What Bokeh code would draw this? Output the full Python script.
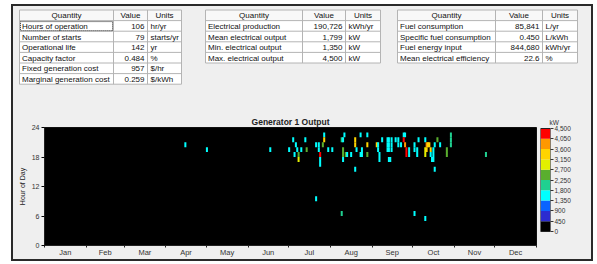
import numpy as np
from bokeh.plotting import figure
from bokeh.models import Range1d, FixedTicker, ColumnDataSource, NumeralTickFormatter
from bokeh.layouts import column, row
from bokeh.embed import file_html
from bokeh.resources import INLINE
from bokeh.transform import linear_cmap
from bokeh.core.properties import value

FONT = "Liberation Sans"

# ---------------- data ----------------
t1_quantity = ["Hours of operation", "Number of starts", "Operational life",
               "Capacity factor", "Fixed generation cost", "Marginal generation cost"]
t1_value = ["106", "79", "142", "0.484", "957", "0.259"]
t1_units = ["hr/yr", "starts/yr", "yr", "%", "$/hr", "$/kWh"]

t2_quantity = ["Electrical production", "Mean electrical output",
               "Min. electrical output", "Max. electrical output"]
t2_value = ["190,726", "1,799", "1,350", "4,500"]
t2_units = ["kWh/yr", "kW", "kW", "kW"]

t3_quantity = ["Fuel consumption", "Specific fuel consumption",
               "Fuel energy input", "Mean electrical efficiency"]
t3_value = ["85,841", "0.450", "844,680", "22.6"]
t3_units = ["L/yr", "L/kWh", "kWh/yr", "%"]

table_header = ["Quantity", "Value", "Units"]

months = ["Jan", "Feb", "Mar", "Apr", "May", "Jun",
          "Jul", "Aug", "Sep", "Oct", "Nov", "Dec"]
month_days = [31, 28, 31, 30, 31, 30, 31, 31, 30, 31, 30, 31]
hour_ticks = [0, 6, 12, 18, 24]
kw_levels = [0, 450, 900, 1350, 1800, 2250, 2700, 3150, 3600, 4050, 4500]
kw_palette = ["#000000", "#2c2cd0", "#0a64ff", "#00ffff", "#20d090",
              "#5aae2e", "#e2f000", "#ffd400", "#ff9800", "#ff0000"]

cell_day = [104, 120, 167, 181, 184, 185, 186, 187, 188, 188, 190, 193, 194,
            201, 201, 203, 203, 204, 204, 204, 206, 207, 207, 210, 213,
            220, 220, 221, 221, 221, 221, 222, 223, 224, 227,
            230, 230, 230, 231, 234, 234, 235, 235, 239, 239, 239,
            246, 247, 247, 248, 248, 250, 254, 254, 254, 255, 255, 255, 255, 256,
            257, 257, 257, 260, 262, 262, 264, 266, 267, 266, 267, 268, 268,
            270, 270, 274, 274, 274, 276, 276, 277,
            282, 282, 282, 282, 283, 283, 284, 285, 286, 286, 287,
            288, 288, 288, 289, 289, 291, 293, 298, 298, 301, 301, 301, 327]
cell_hour = [20, 19, 19, 19, 21, 18, 20, 19, 18, 17, 19, 21, 19,
             20, 9, 20, 19, 18, 17, 16, 20, 22, 21, 19, 19,
             21, 6, 21, 19, 18, 17, 22, 18, 18, 18,
             21, 20, 15, 19, 22, 18, 19, 18, 22, 20, 18,
             20, 20, 19, 18, 17, 21, 21, 20, 19, 21, 20, 19, 17, 17,
             21, 20, 19, 21, 21, 20, 20, 22, 22, 21, 20, 19, 18,
             19, 18, 20, 19, 6, 19, 18, 21,
             21, 19, 18, 5, 20, 19, 20, 20, 19, 18, 17,
             19, 18, 17, 20, 15, 21, 20, 19, 18, 22, 21, 20, 18]
cell_kw = [1500, 1500, 1500, 1500, 1500, 1500, 1500, 1500, 2500, 2900, 1500, 1500, 2500,
           1500, 1500, 1500, 1500, 4300, 1500, 1500, 2500, 1500, 3400, 1500, 1500,
           2000, 2000, 1500, 2500, 2500, 1500, 1500, 2500, 1500, 1500,
           3400, 3400, 1500, 1500, 1500, 1500, 1500, 1500, 1500, 3400, 2500,
           3400, 1500, 1500, 1500, 1500, 1500, 1500, 1500, 1500, 1500, 1500, 1500, 1500, 1500,
           1500, 1500, 1500, 1500, 1500, 1500, 1500, 1500, 1500, 4300, 3800, 4300, 4300,
           1500, 1500, 1500, 1500, 1500, 1500, 1500, 1500,
           1500, 2900, 2900, 1500, 3800, 3400, 3400, 3400, 3400, 1500, 1500,
           1500, 1500, 1500, 1500, 1500, 2500, 1500, 2500, 2500, 2000, 2000, 2000, 2000]

BG = "#efefef"
TXT = "#111111"

# ---------------- tables (page-pixel coordinates of the panel) ----------------
tp = figure(width=578, height=106, x_range=Range1d(13, 591), y_range=Range1d(112, 6),
            output_backend="svg", toolbar_location=None, min_border=0,
            x_axis_location=None, y_axis_location=None,
            background_fill_color=BG, border_fill_color=BG, outline_line_color=None)
tp.grid.visible = False

ROW_H = 10.6
TOP = 9.5
TFS = "8px"


def draw_table(p, edges, quantity, vals, units):
    n = len(quantity) + 1
    bottom = TOP + n * ROW_H
    p.quad(left=edges[0], right=edges[-1], top=TOP, bottom=TOP + ROW_H,
           fill_color="#f8f8f8", line_color=None)
    p.quad(left=edges[0], right=edges[-1], top=TOP + ROW_H, bottom=bottom,
           fill_color="white", line_color=None)
    ys = [TOP + i * ROW_H for i in range(n + 1)]
    p.segment(x0=[edges[0]] * len(ys), x1=[edges[-1]] * len(ys), y0=ys, y1=ys,
              line_color="#b4b4b4", line_width=1)
    p.segment(x0=edges, x1=edges, y0=[TOP] * len(edges), y1=[bottom] * len(edges),
              line_color="#b4b4b4", line_width=1)
    cx = [(edges[i] + edges[i + 1]) / 2 for i in range(3)]
    common = dict(text_font=value(FONT), text_font_size=TFS,
                  text_baseline="middle", text_color=TXT)
    p.text(x=cx, y=[TOP + ROW_H / 2 + 0.5] * 3, text=table_header,
           text_align="center", **common)
    yrows = [TOP + (i + 1.5) * ROW_H + 0.5 for i in range(n - 1)]
    p.text(x=[edges[0] + 2.5] * len(quantity), y=yrows, text=quantity,
           text_align="left", **common)
    p.text(x=[edges[2] - 3] * len(vals), y=yrows, text=vals,
           text_align="right", **common)
    p.text(x=[edges[2] + 3] * len(units), y=yrows, text=units,
           text_align="left", **common)


draw_table(tp, [19, 113, 147, 181], t1_quantity, t1_value, t1_units)
draw_table(tp, [205, 302, 345, 380], t2_quantity, t2_value, t2_units)
draw_table(tp, [397, 495, 542, 577], t3_quantity, t3_value, t3_units)
tp.quad(left=20, right=112, top=TOP + ROW_H + 1, bottom=TOP + 2 * ROW_H - 0.5,
        fill_color=None, line_color="#222222", line_dash="1 1", line_width=1)

# ---------------- heat map ----------------
hp = figure(width=525, height=147, x_range=Range1d(0, 365), y_range=Range1d(0, 24),
            output_backend="svg", toolbar_location=None,
            min_border_left=31, min_border_right=2, min_border_top=15, min_border_bottom=14,
            background_fill_color="black", border_fill_color=BG,
            outline_line_color="#111111")
hp.grid.visible = False
hp.title.text = "Generator 1 Output"
hp.title.align = "center"
hp.title.text_font = FONT
hp.title.text_font_size = "8.5px"
hp.title.text_font_style = "bold"
hp.title.text_color = "#222222"
hp.title.standoff = 1
hp.title.offset = 0

bounds = np.concatenate([[0], np.cumsum(month_days)])
mids = (bounds[:-1] + bounds[1:]) / 2.0
hp.xaxis.ticker = FixedTicker(ticks=[float(m) for m in mids],
                              minor_ticks=[float(b) for b in bounds])
hp.xaxis.major_label_overrides = {float(m): name for m, name in zip(mids, months)}
hp.xaxis.major_tick_line_color = None
hp.xaxis.major_tick_out = 0
hp.xaxis.major_tick_in = 0
hp.xaxis.minor_tick_in = 0
hp.xaxis.minor_tick_out = 2
hp.xaxis.minor_tick_line_color = "#222222"
hp.xaxis.major_label_standoff = 0
hp.xaxis.major_label_text_font = FONT
hp.xaxis.major_label_text_font_size = "7.5px"
hp.xaxis.major_label_text_color = "#333333"
hp.xaxis.axis_line_color = "#222222"

hp.yaxis.ticker = FixedTicker(ticks=hour_ticks, minor_ticks=[])
hp.yaxis.major_tick_in = 0
hp.yaxis.major_tick_out = 3
hp.yaxis.major_label_standoff = 2
hp.yaxis.major_label_text_font = FONT
hp.yaxis.major_label_text_font_size = "7px"
hp.yaxis.major_label_text_color = "#333333"
hp.yaxis.axis_label = "Hour of Day"
hp.yaxis.axis_label_text_font = FONT
hp.yaxis.axis_label_text_font_size = "7px"
hp.yaxis.axis_label_text_font_style = "normal"
hp.yaxis.axis_label_text_color = "#222222"
hp.yaxis.axis_label_standoff = 3
hp.yaxis.axis_line_color = "#222222"

src = ColumnDataSource(dict(x=[d + 0.5 for d in cell_day],
                            y=[h + 0.5 for h in cell_hour],
                            kw=cell_kw))
hp.rect(x="x", y="y", width=1.5, height=1, source=src,
        fill_color=linear_cmap("kw", kw_palette, 0, 4500), line_color=None)

# ---------------- colour bar ----------------
# frame shares the heat map's frame rows (118 px); the bar occupies 103 px of it
KW_PER_PX = (kw_levels[-1] - kw_levels[0]) / 103.0
cp = figure(width=53, height=147, x_range=Range1d(0, 1),
            y_range=Range1d(kw_levels[0] - 14 * KW_PER_PX, kw_levels[-1] + 1 * KW_PER_PX),
            output_backend="svg", toolbar_location=None,
            min_border_left=2, min_border_right=41, min_border_top=15, min_border_bottom=14,
            x_axis_location=None, y_axis_location="right",
            background_fill_color=BG, border_fill_color=BG, outline_line_color=None)
cp.grid.visible = False
cp.quad(left=0, right=1, bottom=kw_levels[:-1], top=kw_levels[1:],
        fill_color=kw_palette, line_color=None)
cp.quad(left=0, right=1, bottom=kw_levels[0], top=kw_levels[-1],
        fill_color=None, line_color="#222222", line_width=1)
cp.yaxis.ticker = FixedTicker(ticks=kw_levels, minor_ticks=[])
cp.yaxis.formatter = NumeralTickFormatter(format="0,0")
cp.yaxis.major_tick_in = 0
cp.yaxis.major_tick_out = 3
cp.yaxis.major_tick_line_color = "#333333"
cp.yaxis.major_label_standoff = 1
cp.yaxis.major_label_text_font = FONT
cp.yaxis.major_label_text_font_size = "6.5px"
cp.yaxis.major_label_text_color = "#333333"
cp.yaxis.axis_line_color = None
cp.title.text = "kW"
cp.title.align = "left"
cp.title.offset = 9
cp.title.standoff = 4
cp.title.text_font = FONT
cp.title.text_font_size = "6.5px"
cp.title.text_font_style = "normal"
cp.title.text_color = "#333333"

layout = column(tp, row(hp, cp), margin=(4, 0, 0, 11),
                styles={"border": "2px solid #2a2a2a", "background-color": BG})

open("out.html", "w").write(file_html(layout, INLINE))
